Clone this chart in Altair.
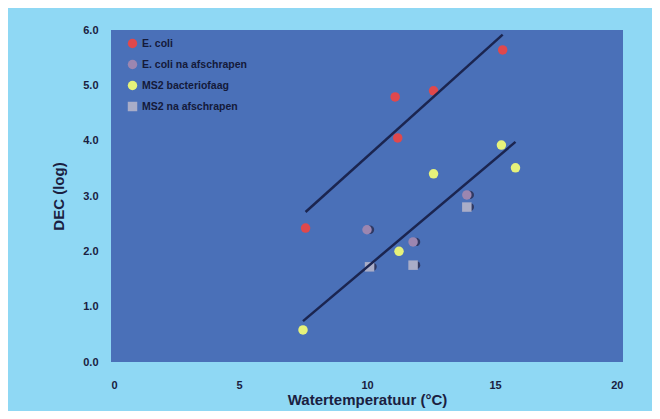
import altair as alt
import pandas as pd

# Data
ecoli_x = [7.6, 11.1, 11.2, 12.6, 15.3]
ecoli_y = [2.42, 4.79, 4.05, 4.90, 5.64]
ecoli_na_x = [10.0, 11.8, 13.9]
ecoli_na_y = [2.39, 2.17, 3.02]
ms2_x = [7.5, 11.25, 12.6, 15.25, 15.8]
ms2_y = [0.58, 2.00, 3.40, 3.92, 3.51]
ms2_na_x = [10.1, 11.8, 13.9]
ms2_na_y = [1.72, 1.75, 2.80]

series_names = ["E. coli", "E. coli na afschrapen", "MS2 bacteriofaag", "MS2 na afschrapen"]
series_colors = ["#e0484c", "#9c86b0", "#e6f27a", "#a9adc8"]
series_shapes = ["circle", "circle", "circle", "square"]

x_ticks = [0, 5, 10, 15, 20]
y_ticks = [0, 1, 2, 3, 4, 5, 6]

rows = []
for name, xs, ys in [
    (series_names[0], ecoli_x, ecoli_y),
    (series_names[1], ecoli_na_x, ecoli_na_y),
    (series_names[2], ms2_x, ms2_y),
    (series_names[3], ms2_na_x, ms2_na_y),
]:
    for xv, yv in zip(xs, ys):
        rows.append({"serie": name, "temp": xv, "dec": yv})
df = pd.DataFrame(rows)

xscale = alt.Scale(domain=[0, 20], nice=False)
yscale = alt.Scale(domain=[0, 6], nice=False)

xenc = alt.X("temp:Q", scale=xscale,
             axis=alt.Axis(values=x_ticks, format="d", title="Watertemperatuur (°C)"))
yenc = alt.Y("dec:Q", scale=yscale,
             axis=alt.Axis(values=y_ticks, format=".1f", title="DEC (log)"))

base = alt.Chart(df)

lines_ecoli = base.transform_filter(
    alt.datum.serie == series_names[0]
).transform_regression("temp", "dec").mark_line(
    color="#1b2550", strokeWidth=2.5
).encode(x=xenc, y=yenc)

lines_ms2 = base.transform_filter(
    alt.datum.serie == series_names[2]
).transform_regression("temp", "dec").mark_line(
    color="#1b2550", strokeWidth=2.5
).encode(x=xenc, y=yenc)

shadow = base.transform_filter(
    (alt.datum.serie == series_names[1]) | (alt.datum.serie == series_names[3])
).mark_circle(size=70, color="#2a2f55", opacity=0.85, xOffset=3).encode(x=xenc, y=yenc)

points = base.mark_point(filled=True, size=90, opacity=1, strokeWidth=0).encode(
    x=xenc,
    y=yenc,
    color=alt.Color("serie:N", scale=alt.Scale(domain=series_names, range=series_colors),
                    legend=alt.Legend(title=None, orient="none", legendX=16, legendY=8,
                                      labelFontSize=10.5, labelFont="Liberation Sans",
                                      labelFontWeight="bold", labelColor="#141a3a",
                                      symbolSize=90, rowPadding=10, labelOffset=4)),
    shape=alt.Shape("serie:N", scale=alt.Scale(domain=series_names, range=series_shapes)),
)

chart = alt.layer(shadow, points, lines_ecoli, lines_ms2).properties(
    width=512, height=332,
    background="#8fd8f4",
    padding={"left": 103, "top": 22, "right": 29, "bottom": 49},
    autosize=alt.AutoSizeParams(type="none"),
).configure_view(
    fill="#4a70b8", stroke=None
).configure_axis(
    grid=False, domain=False, ticks=False,
    labelFont="Liberation Sans", labelFontWeight="bold", labelFontSize=11,
    labelColor="#1a2040",
    titleFont="Liberation Sans", titleFontWeight="bold", titleColor="#1a2040",
).configure_axisX(
    labelPadding=17, titleFontSize=15, titlePadding=2,
).configure_axisY(
    labelPadding=13, titleFontSize=15, titlePadding=16,
)

chart.save("out.html", embed_options={"renderer": "svg", "actions": False})
